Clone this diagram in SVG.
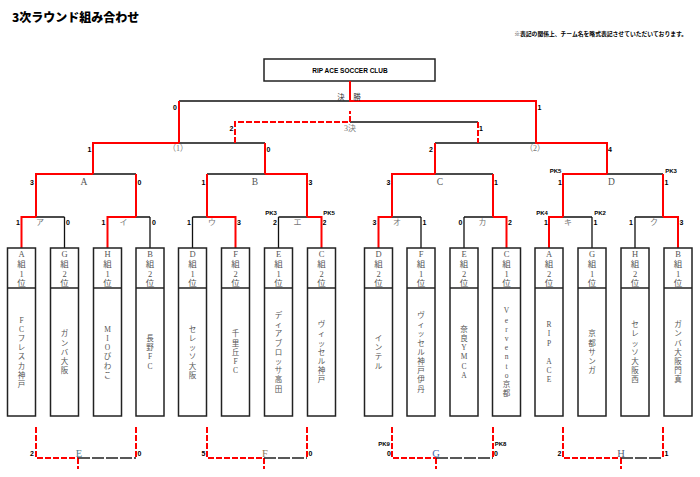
<svg xmlns="http://www.w3.org/2000/svg" width="700" height="477" viewBox="0 0 700 477">
<style>
.r{stroke:#f00;stroke-width:2;fill:none}
.k{stroke:#111;stroke-width:1.3;fill:none}
.rd{stroke:#f00;stroke-width:2;stroke-dasharray:6 2;fill:none}
.kd{stroke:#222;stroke-width:1.3;stroke-dasharray:12 2;fill:none}
.box{fill:#fff;stroke:#222;stroke-width:1.5}
.sc{font-family:"Liberation Sans",Arial,sans-serif;font-weight:bold;font-size:7px;fill:#000;text-anchor:middle}
.pk{font-family:"Liberation Sans",Arial,sans-serif;font-weight:bold;font-size:6px;fill:#000;text-anchor:middle}
.lb{font-family:"Liberation Serif","Noto Sans CJK JP",serif;font-size:8px;fill:#777;text-anchor:middle}
.gl{font-family:"Liberation Serif",serif;font-size:9.5px;fill:#555;text-anchor:middle}
.bl{font-family:"Liberation Serif",serif;font-size:10.5px;text-anchor:middle}
.hd{font-family:"Liberation Serif","Noto Sans CJK JP",serif;font-size:8.5px;fill:#555;text-anchor:middle}
.tn{font-family:"Liberation Serif","Noto Sans CJK JP",serif;font-size:7.5px;fill:#555;text-anchor:middle}
</style>
<text x="12" y="22" font-family="'Noto Sans CJK JP',sans-serif" font-weight="900" font-size="12" fill="#000">3次ラウンド組み合わせ</text>
<text x="687" y="36" text-anchor="end" font-family="'Noto Sans CJK JP',sans-serif" font-weight="bold" font-size="5.8" fill="#000">※表記の関係上、チーム名を略式表記させていただいております。</text>
<g id="top">
<rect x="264" y="59" width="171" height="22" fill="#fff" stroke="#222" stroke-width="1.5"/>
<text x="350" y="72.5" font-family="'Liberation Sans',Arial,sans-serif" font-weight="bold" font-size="6.5" text-anchor="middle">RIP ACE SOCCER CLUB</text>
</g>
<g id="connectors">
<path class="k" d="M36 217H64.5M136 217H150M192.5 217H207M278.5 217H307M392 217H421M464 217H493M563 217H592M635 217H663
M93 174H136M207 174H265M435 174H493M607 174H663M179 143H265M435 143H535M179 101H350M350 122H478
M64.5 217V248M150 217V248M192.5 217V248M278.5 217V248M421 217V248M464 217V248M592 217V248M635 217V248"/>
<path class="r" d="M21.5 248V217H36M107.5 248V217H136M235.5 248V217H207M321.5 248V217H307M378.5 248V217H392M506.5 248V217H493M549 248V217H563M678 248V217H663
M36 217V174H93M136 217V174M207 217V174M307 217V174H265M392 217V174H435M493 217V174M563 217V174H607M663 217V174
M93 174V143H179M265 174V143M435 174V143M607 174V143H535M179 143V101M536 143V101H350V81"/>
<path class="rd" d="M235 143V122H350M350 122V111M478 122V143"/>
<path class="rd" d="M36 427V458H78M78 458V469M136 427V458M207 427V458H264M264 458V469M307 427V458M392 427V458H436M436 458V469M493 427V458M563 427V458H621M621 458V469M663 427V458"/>
<path class="kd" d="M78 458H136M264 458H307M436 458H493M621 458H663"/>
</g>
<g id="labels">
<text x="341" y="99.5" font-family="'Noto Sans CJK JP',sans-serif" font-size="7.5" fill="#333" text-anchor="middle">決</text>
<text x="357" y="99.5" font-family="'Noto Sans CJK JP',sans-serif" font-size="7.5" fill="#333" text-anchor="middle">勝</text>
<text x="350" y="131" class="lb" font-size="7" fill="#667">3決</text>
<text x="178" y="151" class="lb" font-size="7">（1）</text>
<text x="535" y="151" class="lb" font-size="7">（2）</text>
<text x="84" y="185" class="gl">A</text>
<text x="255" y="185" class="gl">B</text>
<text x="440" y="185" class="gl">C</text>
<text x="611.5" y="185" class="gl" fill="#3a6ac8">D</text>
<text x="40" y="225" class="lb">ア</text>
<text x="123.5" y="225" class="lb">イ</text>
<text x="212" y="225" class="lb">ウ</text>
<text x="297.5" y="225" class="lb">エ</text>
<text x="397" y="225" class="lb">オ</text>
<text x="482.5" y="225" class="lb">カ</text>
<text x="568" y="225" class="lb">キ</text>
<text x="654" y="225" class="lb">ク</text>
<text x="79" y="457" class="bl" fill="#4a7a8a">E</text>
<text x="265" y="457" class="bl" fill="#8a7a5a">F</text>
<text x="436" y="457" class="bl" fill="#3a6ab0">G</text>
<text x="621" y="457" class="bl" fill="#50607a">H</text>
</g>
<g id="scores">
<text class="sc" x="175" y="110">0</text><text class="sc" x="539.5" y="110">1</text>
<text class="sc" x="231.5" y="130.5">2</text><text class="sc" x="481" y="130.5">1</text>
<text class="sc" x="89.5" y="152">1</text><text class="sc" x="268.5" y="152">0</text>
<text class="sc" x="431" y="152">2</text><text class="sc" x="610" y="152">4</text>
<text class="sc" x="32" y="184.5">3</text><text class="sc" x="139.5" y="184.5">0</text>
<text class="sc" x="203.5" y="184.5">1</text><text class="sc" x="310.5" y="184.5">3</text>
<text class="sc" x="388.5" y="184.5">3</text><text class="sc" x="496" y="184.5">1</text>
<text class="sc" x="560" y="184.5">1</text><text class="sc" x="666.5" y="184.5">1</text>
<text class="pk" x="555.5" y="172.5">PK5</text><text class="pk" x="671" y="172.5">PK3</text>
<text class="sc" x="18" y="224.5">1</text><text class="sc" x="68" y="224.5">0</text>
<text class="sc" x="103.5" y="224.5">1</text><text class="sc" x="154" y="224.5">0</text>
<text class="sc" x="189" y="224.5">1</text><text class="sc" x="239" y="224.5">3</text>
<text class="sc" x="275" y="224.5">2</text><text class="sc" x="324.5" y="224.5">2</text>
<text class="sc" x="374.5" y="224.5">3</text><text class="sc" x="424.5" y="224.5">1</text>
<text class="sc" x="460.5" y="224.5">0</text><text class="sc" x="510" y="224.5">2</text>
<text class="sc" x="546" y="224.5">1</text><text class="sc" x="595.5" y="224.5">1</text>
<text class="sc" x="631" y="224.5">1</text><text class="sc" x="681.5" y="224.5">3</text>
<text class="pk" x="271" y="214.5">PK3</text><text class="pk" x="329" y="214.5">PK5</text>
<text class="pk" x="542" y="214.5">PK4</text><text class="pk" x="600" y="214.5">PK2</text>
<text class="sc" x="32" y="456">2</text><text class="sc" x="139.5" y="456">0</text>
<text class="sc" x="203.5" y="456">5</text><text class="sc" x="310.5" y="456">0</text>
<text class="sc" x="389" y="456">0</text><text class="sc" x="496" y="456">0</text>
<text class="sc" x="559.5" y="456">2</text><text class="sc" x="666.5" y="456">1</text>
<text class="pk" x="384" y="445.5">PK9</text><text class="pk" x="500.5" y="445.5">PK8</text>
</g>
<g id="team-A1">
<rect class="box" x="7.5" y="248" width="28" height="168"/><line class="box" x1="7.5" y1="288" x2="35.5" y2="288"/>
<text class="hd" x="21.5" y="256.5">A<tspan x="21.5" y="266.5">組</tspan><tspan x="21.5" y="276.5">1</tspan><tspan x="21.5" y="286">位</tspan></text>
<text class="tn" x="21.5" y="322.6">F<tspan x="21.5" dy="9.2">C</tspan><tspan x="21.5" dy="9.2">フ</tspan><tspan x="21.5" dy="9.2">レ</tspan><tspan x="21.5" dy="9.2">ス</tspan><tspan x="21.5" dy="9.2">カ</tspan><tspan x="21.5" dy="9.2">神</tspan><tspan x="21.5" dy="9.2">戸</tspan></text>
</g>
<g id="team-G2">
<rect class="box" x="50.5" y="248" width="28" height="168"/><line class="box" x1="50.5" y1="288" x2="78.5" y2="288"/>
<text class="hd" x="64.5" y="256.5">G<tspan x="64.5" y="266.5">組</tspan><tspan x="64.5" y="276.5">2</tspan><tspan x="64.5" y="286">位</tspan></text>
<text class="tn" x="64.5" y="336.4">ガ<tspan x="64.5" dy="9.2">ン</tspan><tspan x="64.5" dy="9.2">バ</tspan><tspan x="64.5" dy="9.2">大</tspan><tspan x="64.5" dy="9.2">阪</tspan></text>
</g>
<g id="team-H1">
<rect class="box" x="93.5" y="248" width="28" height="168"/><line class="box" x1="93.5" y1="288" x2="121.5" y2="288"/>
<text class="hd" x="107.5" y="256.5">H<tspan x="107.5" y="266.5">組</tspan><tspan x="107.5" y="276.5">1</tspan><tspan x="107.5" y="286">位</tspan></text>
<text class="tn" x="107.5" y="331.8">M<tspan x="107.5" dy="9.2">I</tspan><tspan x="107.5" dy="9.2">O</tspan><tspan x="107.5" dy="9.2">び</tspan><tspan x="107.5" dy="9.2">わ</tspan><tspan x="107.5" dy="9.2">こ</tspan></text>
</g>
<g id="team-B2">
<rect class="box" x="136" y="248" width="28" height="168"/><line class="box" x1="136" y1="288" x2="164" y2="288"/>
<text class="hd" x="150" y="256.5">B<tspan x="150" y="266.5">組</tspan><tspan x="150" y="276.5">2</tspan><tspan x="150" y="286">位</tspan></text>
<text class="tn" x="150" y="341">長<tspan x="150" dy="9.2">野</tspan><tspan x="150" dy="9.2">F</tspan><tspan x="150" dy="9.2">C</tspan></text>
</g>
<g id="team-D1">
<rect class="box" x="178.5" y="248" width="28" height="168"/><line class="box" x1="178.5" y1="288" x2="206.5" y2="288"/>
<text class="hd" x="192.5" y="256.5">D<tspan x="192.5" y="266.5">組</tspan><tspan x="192.5" y="276.5">1</tspan><tspan x="192.5" y="286">位</tspan></text>
<text class="tn" x="192.5" y="331.8">セ<tspan x="192.5" dy="9.2">レ</tspan><tspan x="192.5" dy="9.2">ッ</tspan><tspan x="192.5" dy="9.2">ソ</tspan><tspan x="192.5" dy="9.2">大</tspan><tspan x="192.5" dy="9.2">阪</tspan></text>
</g>
<g id="team-F2">
<rect class="box" x="221.5" y="248" width="28" height="168"/><line class="box" x1="221.5" y1="288" x2="249.5" y2="288"/>
<text class="hd" x="235.5" y="256.5">F<tspan x="235.5" y="266.5">組</tspan><tspan x="235.5" y="276.5">2</tspan><tspan x="235.5" y="286">位</tspan></text>
<text class="tn" x="235.5" y="336.4">千<tspan x="235.5" dy="9.2">里</tspan><tspan x="235.5" dy="9.2">丘</tspan><tspan x="235.5" dy="9.2">F</tspan><tspan x="235.5" dy="9.2">C</tspan></text>
</g>
<g id="team-E1">
<rect class="box" x="264.5" y="248" width="28" height="168"/><line class="box" x1="264.5" y1="288" x2="292.5" y2="288"/>
<text class="hd" x="278.5" y="256.5">E<tspan x="278.5" y="266.5">組</tspan><tspan x="278.5" y="276.5">1</tspan><tspan x="278.5" y="286">位</tspan></text>
<text class="tn" x="278.5" y="318">デ<tspan x="278.5" dy="9.2">ィ</tspan><tspan x="278.5" dy="9.2">ア</tspan><tspan x="278.5" dy="9.2">ブ</tspan><tspan x="278.5" dy="9.2">ロ</tspan><tspan x="278.5" dy="9.2">ッ</tspan><tspan x="278.5" dy="9.2">サ</tspan><tspan x="278.5" dy="9.2">高</tspan><tspan x="278.5" dy="9.2">田</tspan></text>
</g>
<g id="team-C2">
<rect class="box" x="307.5" y="248" width="28" height="168"/><line class="box" x1="307.5" y1="288" x2="335.5" y2="288"/>
<text class="hd" x="321.5" y="256.5">C<tspan x="321.5" y="266.5">組</tspan><tspan x="321.5" y="276.5">2</tspan><tspan x="321.5" y="286">位</tspan></text>
<text class="tn" x="321.5" y="327.2">ヴ<tspan x="321.5" dy="9.2">ィ</tspan><tspan x="321.5" dy="9.2">ッ</tspan><tspan x="321.5" dy="9.2">セ</tspan><tspan x="321.5" dy="9.2">ル</tspan><tspan x="321.5" dy="9.2">神</tspan><tspan x="321.5" dy="9.2">戸</tspan></text>
</g>
<g id="team-D2">
<rect class="box" x="364.5" y="248" width="28" height="168"/><line class="box" x1="364.5" y1="288" x2="392.5" y2="288"/>
<text class="hd" x="378.5" y="256.5">D<tspan x="378.5" y="266.5">組</tspan><tspan x="378.5" y="276.5">2</tspan><tspan x="378.5" y="286">位</tspan></text>
<text class="tn" x="378.5" y="341">イ<tspan x="378.5" dy="9.2">ン</tspan><tspan x="378.5" dy="9.2">テ</tspan><tspan x="378.5" dy="9.2">ル</tspan></text>
</g>
<g id="team-F1">
<rect class="box" x="407" y="248" width="28" height="168"/><line class="box" x1="407" y1="288" x2="435" y2="288"/>
<text class="hd" x="421" y="256.5">F<tspan x="421" y="266.5">組</tspan><tspan x="421" y="276.5">1</tspan><tspan x="421" y="286">位</tspan></text>
<text class="tn" x="421" y="318">ヴ<tspan x="421" dy="9.2">ィ</tspan><tspan x="421" dy="9.2">ッ</tspan><tspan x="421" dy="9.2">セ</tspan><tspan x="421" dy="9.2">ル</tspan><tspan x="421" dy="9.2">神</tspan><tspan x="421" dy="9.2">戸</tspan><tspan x="421" dy="9.2">伊</tspan><tspan x="421" dy="9.2">丹</tspan></text>
</g>
<g id="team-E2">
<rect class="box" x="450" y="248" width="28" height="168"/><line class="box" x1="450" y1="288" x2="478" y2="288"/>
<text class="hd" x="464" y="256.5">E<tspan x="464" y="266.5">組</tspan><tspan x="464" y="276.5">2</tspan><tspan x="464" y="286">位</tspan></text>
<text class="tn" x="464" y="331.8">奈<tspan x="464" dy="9.2">良</tspan><tspan x="464" dy="9.2">Y</tspan><tspan x="464" dy="9.2">M</tspan><tspan x="464" dy="9.2">C</tspan><tspan x="464" dy="9.2">A</tspan></text>
</g>
<g id="team-C1">
<rect class="box" x="492.5" y="248" width="28" height="168"/><line class="box" x1="492.5" y1="288" x2="520.5" y2="288"/>
<text class="hd" x="506.5" y="256.5">C<tspan x="506.5" y="266.5">組</tspan><tspan x="506.5" y="276.5">1</tspan><tspan x="506.5" y="286">位</tspan></text>
<text class="tn" x="506.5" y="313.4">V<tspan x="506.5" dy="9.2">e</tspan><tspan x="506.5" dy="9.2">r</tspan><tspan x="506.5" dy="9.2">v</tspan><tspan x="506.5" dy="9.2">e</tspan><tspan x="506.5" dy="9.2">n</tspan><tspan x="506.5" dy="9.2">t</tspan><tspan x="506.5" dy="9.2">o</tspan><tspan x="506.5" dy="9.2">京</tspan><tspan x="506.5" dy="9.2">都</tspan></text>
</g>
<g id="team-A2">
<rect class="box" x="535" y="248" width="28" height="168"/><line class="box" x1="535" y1="288" x2="563" y2="288"/>
<text class="hd" x="549" y="256.5">A<tspan x="549" y="266.5">組</tspan><tspan x="549" y="276.5">2</tspan><tspan x="549" y="286">位</tspan></text>
<text class="tn" x="549" y="327.2">R<tspan x="549" dy="9.2">I</tspan><tspan x="549" dy="9.2">P</tspan><tspan x="549" dy="18.4">A</tspan><tspan x="549" dy="9.2">C</tspan><tspan x="549" dy="9.2">E</tspan></text>
</g>
<g id="team-G1">
<rect class="box" x="578" y="248" width="28" height="168"/><line class="box" x1="578" y1="288" x2="606" y2="288"/>
<text class="hd" x="592" y="256.5">G<tspan x="592" y="266.5">組</tspan><tspan x="592" y="276.5">1</tspan><tspan x="592" y="286">位</tspan></text>
<text class="tn" x="592" y="336.4">京<tspan x="592" dy="9.2">都</tspan><tspan x="592" dy="9.2">サ</tspan><tspan x="592" dy="9.2">ン</tspan><tspan x="592" dy="9.2">ガ</tspan></text>
</g>
<g id="team-H2">
<rect class="box" x="621" y="248" width="28" height="168"/><line class="box" x1="621" y1="288" x2="649" y2="288"/>
<text class="hd" x="635" y="256.5">H<tspan x="635" y="266.5">組</tspan><tspan x="635" y="276.5">2</tspan><tspan x="635" y="286">位</tspan></text>
<text class="tn" x="635" y="327.2">セ<tspan x="635" dy="9.2">レ</tspan><tspan x="635" dy="9.2">ッ</tspan><tspan x="635" dy="9.2">ソ</tspan><tspan x="635" dy="9.2">大</tspan><tspan x="635" dy="9.2">阪</tspan><tspan x="635" dy="9.2">西</tspan></text>
</g>
<g id="team-B1">
<rect class="box" x="664" y="248" width="28" height="168"/><line class="box" x1="664" y1="288" x2="692" y2="288"/>
<text class="hd" x="678" y="256.5">B<tspan x="678" y="266.5">組</tspan><tspan x="678" y="276.5">1</tspan><tspan x="678" y="286">位</tspan></text>
<text class="tn" x="678" y="327.2">ガ<tspan x="678" dy="9.2">ン</tspan><tspan x="678" dy="9.2">バ</tspan><tspan x="678" dy="9.2">大</tspan><tspan x="678" dy="9.2">阪</tspan><tspan x="678" dy="9.2">門</tspan><tspan x="678" dy="9.2">真</tspan></text>
</g>
</svg>
